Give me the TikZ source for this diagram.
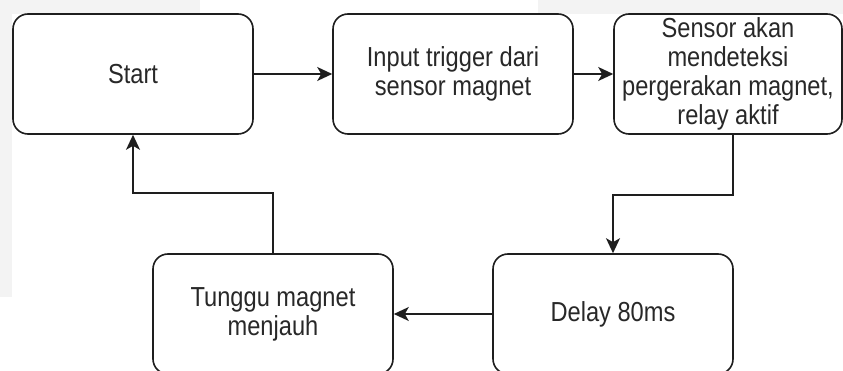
\documentclass[tikz,border=0pt]{standalone}
\usepackage{fontspec}
\setmainfont{Liberation Sans}[FakeStretch=0.86]
\usetikzlibrary{arrows.meta}
\definecolor{panelgray}{RGB}{243,243,243}
\definecolor{inkline}{RGB}{30,30,30}
\definecolor{inktext}{RGB}{40,40,40}
\tikzset{
  stepbox/.style={draw=inkline, fill=white, line width=1.6pt, rounded corners=15pt,
    minimum width=240pt, minimum height=120pt, inner sep=0pt, align=center,
    text=inktext, font=\fontsize{27.5}{28.8}\selectfont},
  flow/.style={draw=inkline, line width=1.6pt,
    -{Stealth[length=15pt, width=14pt, inset=4pt]}}
}
\begin{document}
\begin{tikzpicture}[x=1pt, y=-1pt]
  \useasboundingbox (0,0) rectangle (843,371);
  % light panels behind the chart
  \fill[panelgray] (0,0) rectangle (200,14);
  \fill[panelgray] (0,0) rectangle (12,297);
  \fill[panelgray] (538,0) rectangle (843,14);

  % process steps
  \node[stepbox] (start)  at (133,74)  {Start};
  \node[stepbox] (input)  at (453,74)  {Input trigger dari\\sensor magnet};
  \node[stepbox, minimum width=228pt] (sensor) at (728,74)
    {Sensor akan\\mendeteksi\\pergerakan magnet,\\relay aktif};
  \node[stepbox] (delay)  at (613,314) {Delay 80ms};
  \node[stepbox] (tunggu) at (273,314) {Tunggu magnet\\menjauh};

  % connectors
  \draw[flow] (start) -- (input);
  \draw[flow] (input.east) -- (input.east -| sensor.west);
  \draw[flow] ([xshift=5pt]sensor.south) -- ++(0,60) -| (delay.north);
  \draw[flow] (delay) -- (tunggu);
  \draw[flow] (tunggu.north) -- ++(0,-60) -| (start.south);
\end{tikzpicture}
\end{document}
